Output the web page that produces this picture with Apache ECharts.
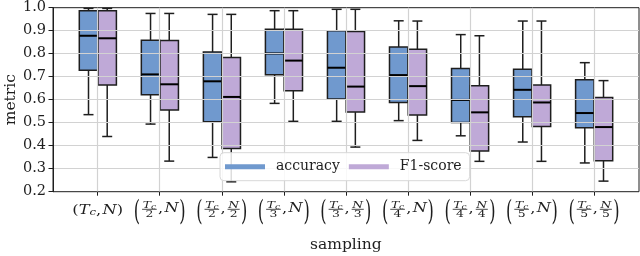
<!DOCTYPE html>
<html><head><meta charset="utf-8">
<script src="https://cdn.jsdelivr.net/npm/echarts@6/dist/echarts.min.js"></script>
<style>html,body{margin:0;padding:0;background:#fff}#c{width:640px;height:256px}</style>
</head><body><div id="c"></div>
<script>
// ---- data ----
const categories = ['(Tc, N)', '(Tc/2, N)', '(Tc/2, N/2)', '(Tc/3, N)', '(Tc/3, N/3)', '(Tc/4, N)', '(Tc/4, N/4)', '(Tc/5, N)', '(Tc/5, N/5)'];
const tDivisor = [1, 2, 2, 3, 3, 4, 4, 5, 5];
const nDivisor = [1, 1, 2, 1, 3, 1, 4, 1, 5];
// [min, q1, median, q3, max]
const accuracy = [
  [0.535, 0.728, 0.878, 0.987, 0.997],
  [0.494, 0.622, 0.710, 0.859, 0.975],
  [0.349, 0.504, 0.680, 0.807, 0.971],
  [0.584, 0.709, 0.801, 0.906, 0.987],
  [0.506, 0.603, 0.739, 0.900, 0.993],
  [0.509, 0.588, 0.707, 0.829, 0.943],
  [0.443, 0.501, 0.599, 0.736, 0.883],
  [0.416, 0.526, 0.643, 0.732, 0.942],
  [0.325, 0.478, 0.542, 0.687, 0.761]
];
const f1score = [
  [0.440, 0.664, 0.867, 0.987, 0.997],
  [0.333, 0.555, 0.667, 0.857, 0.975],
  [0.243, 0.388, 0.612, 0.783, 0.971],
  [0.506, 0.639, 0.770, 0.906, 0.987],
  [0.394, 0.546, 0.657, 0.897, 0.993],
  [0.423, 0.533, 0.659, 0.819, 0.942],
  [0.332, 0.377, 0.545, 0.661, 0.878],
  [0.332, 0.483, 0.588, 0.664, 0.942],
  [0.246, 0.335, 0.481, 0.610, 0.683]
];
const yMin = 0.2, yMax = 1.0, yStep = 0.1;

// ---- style ----
const INK = '#1e1e1e';
const GRIDC = '#d2d2d2';
const BLUE = '#7099ce';
const PURPLE = '#bfa9d7';
const SERIF = 'DejaVu Serif';
const BOX_W = 18.4, CAP_W = 10;

function boxRenderer(offset, color) {
  return function (params, api) {
    const i = api.value(0);
    const pMin = api.coord([i, api.value(1)]);
    const pQ1 = api.coord([i, api.value(2)]);
    const pMed = api.coord([i, api.value(3)]);
    const pQ3 = api.coord([i, api.value(4)]);
    const pMax = api.coord([i, api.value(5)]);
    const x = pMin[0] + offset;
    const ls = { stroke: INK, lineWidth: 1.5 };
    return {
      type: 'group',
      children: [
        { type: 'line', shape: { x1: x, y1: pQ1[1], x2: x, y2: pMin[1] }, style: ls },
        { type: 'line', shape: { x1: x, y1: pQ3[1], x2: x, y2: pMax[1] }, style: ls },
        { type: 'line', shape: { x1: x - CAP_W / 2, y1: pMin[1], x2: x + CAP_W / 2, y2: pMin[1] }, style: ls },
        { type: 'line', shape: { x1: x - CAP_W / 2, y1: pMax[1], x2: x + CAP_W / 2, y2: pMax[1] }, style: ls },
        { type: 'rect', shape: { x: x - BOX_W / 2, y: pQ3[1], width: BOX_W, height: pQ1[1] - pQ3[1] }, style: { fill: color, stroke: INK, lineWidth: 1.5 } },
        { type: 'line', shape: { x1: x - BOX_W / 2, y1: pMed[1], x2: x + BOX_W / 2, y2: pMed[1] }, style: { stroke: '#000', lineWidth: 2 } }
      ]
    };
  };
}

const chart = echarts.init(document.getElementById('c'), null, { renderer: 'canvas' });
const GTOP = 7.7, GBOTTOM = 64.3;
const option = {
  animation: false,
  backgroundColor: '#fff',
  grid: [
    { left: 53, right: 1, top: GTOP, bottom: GBOTTOM, show: true, borderColor: INK, borderWidth: 1, backgroundColor: 'transparent', outerBoundsMode: 'none' },
    { left: 97.7, right: 46, top: GTOP, bottom: GBOTTOM, outerBoundsMode: 'none' }
  ],
  xAxis: [
    { gridIndex: 0, type: 'value', min: 0, max: 1, show: false },
    {
      gridIndex: 1, type: 'category', data: categories, boundaryGap: false, z: 3,
      axisLine: { show: false },
      axisTick: { show: true, length: 4, interval: 0, lineStyle: { color: INK, width: 1 } },
      axisLabel: { show: false, interval: 0 },
      splitLine: { show: true, interval: 0, lineStyle: { color: GRIDC, width: 1.2 } },
      name: 'sampling', nameLocation: 'middle', nameGap: 45, nameMoveOverlap: false,
      nameTextStyle: { fontFamily: SERIF, fontSize: 15.5, color: INK }
    }
  ],
  yAxis: [
    {
      gridIndex: 0, type: 'value', min: yMin, max: yMax, interval: yStep, z: 3,
      axisLine: { show: true, lineStyle: { color: INK, width: 1 } },
      axisTick: { show: true, length: 4.5, lineStyle: { color: INK, width: 1 } },
      axisLabel: { fontFamily: SERIF, fontSize: 14.5, color: INK, margin: 7, formatter: v => v.toFixed(1) },
      splitLine: { show: true, showMinLine: false, showMaxLine: false, lineStyle: { color: GRIDC, width: 1.2 } },
      name: 'metric', nameLocation: 'middle', nameGap: 42, nameMoveOverlap: false,
      nameTextStyle: { fontFamily: SERIF, fontSize: 15.5, color: INK, verticalAlign: 'middle' }
    },
    { gridIndex: 1, type: 'value', min: yMin, max: yMax, show: false }
  ],
  legend: {
    data: ['accuracy', 'F1-score'], left: 220, top: 152.7, z: 10,
    icon: 'rect', itemWidth: 40, itemHeight: 5, itemGap: 9,
    padding: [7, 8, 7, 5],
    backgroundColor: 'rgba(255,255,255,0.85)', borderColor: '#d8d8d8', borderWidth: 1, borderRadius: 4,
    textStyle: { fontFamily: SERIF, fontSize: 14, color: INK, padding: [0, 0, 0, 6] }
  },
  series: [
    {
      name: 'accuracy', type: 'custom', xAxisIndex: 1, yAxisIndex: 1,
      itemStyle: { color: BLUE },
      renderItem: boxRenderer(-9.2, BLUE),
      encode: { x: 0, y: [1, 2, 3, 4, 5] },
      data: accuracy.map((d, i) => [i].concat(d))
    },
    {
      name: 'F1-score', type: 'custom', xAxisIndex: 1, yAxisIndex: 1,
      itemStyle: { color: PURPLE },
      renderItem: boxRenderer(9.5, PURPLE),
      encode: { x: 0, y: [1, 2, 3, 4, 5] },
      data: f1score.map((d, i) => [i].concat(d))
    }
  ]
};
chart.setOption(option);

// ---- math-style x tick labels as real text ----
const mctx = document.createElement('canvas').getContext('2d');
function fontStr(size, italic) { return (italic ? 'italic ' : '') + size + 'px "' + SERIF + '"'; }
function measure(t, size, italic) { mctx.font = fontStr(size, italic); return mctx.measureText(t).width; }

const MAIN = 12.5, SMALL = 9.5, SUB = 7, SUB_MAIN = 9;
const STRETCH = 1.3;

function buildLabel(i) {
  const td = tDivisor[i], nd = nDivisor[i];
  const els = [];
  let x = 0;
  function txt(t, size, italic, y, extra) {
    const w = measure(t, size, italic);
    els.push(Object.assign({ type: 'text', x: x, y: y, style: { text: t, font: fontStr(size, italic), fill: INK, align: 'left', verticalAlign: 'middle' } }, extra || {}));
    x += w;
    return w;
  }
  function frac(numMain, numSub, den) {
    const barY = 209.3;
    const wMain = measure(numMain, SMALL, true);
    const wSub = numSub ? measure(numSub, SUB, true) : 0;
    const numW = wMain + wSub;
    const denW = measure(den, SMALL, false);
    const fw = Math.max(numW, denW) + 2;
    const x0 = x;
    const nx = x0 + (fw - numW) / 2;
    els.push({ type: 'text', x: nx, y: 205.3, style: { text: numMain, font: fontStr(SMALL, true), fill: INK, align: 'left', verticalAlign: 'middle' } });
    if (numSub) els.push({ type: 'text', x: nx + wMain, y: 207.2, style: { text: numSub, font: fontStr(SUB, true), fill: INK, align: 'left', verticalAlign: 'middle' } });
    els.push({ type: 'line', shape: { x1: x0 + 0.5, y1: barY, x2: x0 + fw - 0.5, y2: barY }, style: { stroke: INK, lineWidth: 0.7 } });
    els.push({ type: 'text', x: x0 + (fw - denW) / 2, y: 214.8, style: { text: den, font: fontStr(SMALL, false), fill: INK, align: 'left', verticalAlign: 'middle' } });
    x += fw;
  }
  if (td === 1 && nd === 1) {
    const ym = 210.3;
    txt('(', MAIN, false, ym);
    txt('T', MAIN, true, ym);
    txt('c', SUB_MAIN, true, ym + 2.6);
    txt(',', MAIN, false, ym);
    x += 1;
    txt('N', MAIN, true, ym);
    txt(')', MAIN, false, ym);
  } else {
    const ym = 208.6;
    txt('(', MAIN, false, 212.5, { scaleY: 2.3 });
    x += 1;
    frac('T', 'c', String(td));
    x += 0.5;
    txt(',', MAIN, false, ym);
    x += 1;
    if (nd === 1) txt('N', MAIN, true, ym);
    else frac('N', '', String(nd));
    x += 0.5;
    txt(')', MAIN, false, 212.5, { scaleY: 2.3 });
  }
  const W = x;
  els.forEach(e => {
    if (e.type === 'line') { e.shape.x1 -= W / 2; e.shape.x2 -= W / 2; }
    else e.x -= W / 2;
  });
  const cx = chart.convertToPixel({ xAxisIndex: 1 }, i);
  return { type: 'group', x: cx, y: 0, scaleX: STRETCH, children: els, silent: true };
}

chart.setOption({ graphic: { elements: categories.map((c, i) => buildLabel(i)) } });
</script>
</body></html>
